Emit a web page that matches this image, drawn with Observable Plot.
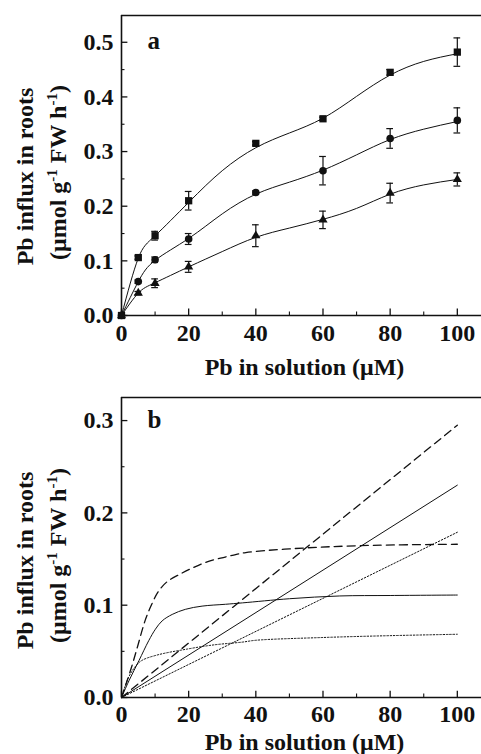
<!DOCTYPE html>
<html>
<head>
<meta charset="utf-8">
<script src="https://cdn.jsdelivr.net/npm/d3@7"></script>
<script src="https://cdn.jsdelivr.net/npm/@observablehq/plot@0.6"></script>
<style>
  html, body { margin: 0; padding: 0; background: #fff; }
  #chart svg { display: block; }
</style>
</head>
<body>
<div id="chart"></div>
<script>
// ---- Panel a: measured Pb influx (mean ± error) ----
const concA = [0, 5, 10, 20, 40, 60, 80, 100];
const squareMean = [0, 0.106, 0.146, 0.210, 0.315, 0.360, 0.445, 0.482];
const squareErr  = [0, 0.003, 0.008, 0.017, 0.003, 0.003, 0.005, 0.026];
const circleMean = [0, 0.062, 0.102, 0.140, 0.225, 0.265, 0.324, 0.357];
const circleErr  = [0, 0.003, 0.005, 0.010, 0.003, 0.026, 0.018, 0.023];
const triangleMean = [0, 0.041, 0.059, 0.089, 0.146, 0.175, 0.224, 0.249];
const triangleErr  = [0, 0.003, 0.008, 0.010, 0.020, 0.016, 0.018, 0.012];

// fitted curves for panel a
const fitX = [0, 5, 10, 20, 30, 40, 50, 60, 70, 80, 90, 100];
const squareFit   = [0, 0.105, 0.146, 0.207, 0.265, 0.307, 0.334, 0.361, 0.401, 0.440, 0.465, 0.479];
const circleFit   = [0, 0.062, 0.101, 0.141, 0.186, 0.222, 0.244, 0.266, 0.294, 0.322, 0.341, 0.355];
const triangleFit = [0, 0.041, 0.060, 0.089, 0.117, 0.143, 0.160, 0.176, 0.196, 0.222, 0.239, 0.249];

// ---- Panel b: saturable and linear components ----
const satDashedX = [0, 3, 5, 7, 9, 11, 13.6, 17.6, 21.5, 25.5, 29.5, 33, 37, 50, 71, 100];
const satDashedY = [0, 0.033, 0.058, 0.083, 0.101, 0.115, 0.1255, 0.134, 0.141, 0.147, 0.151, 0.154, 0.157, 0.161, 0.1645, 0.166];
const satSolidX = [0, 2.2, 5.2, 8.1, 10.1, 12.1, 15.1, 19, 24, 31, 36, 50, 65, 80, 100];
const satSolidY = [0, 0.018, 0.040, 0.0615, 0.074, 0.083, 0.090, 0.0955, 0.099, 0.101, 0.1025, 0.107, 0.110, 0.1105, 0.111];
const satDottedX = [0, 2, 4, 6, 10.6, 19.6, 27.5, 36, 40, 60, 80, 100];
const satDottedY = [0, 0.021, 0.033, 0.040, 0.046, 0.0525, 0.057, 0.060, 0.062, 0.065, 0.067, 0.0685];
const linX = [0, 100];
const linDashedY = [0, 0.295];
const linSolidY  = [0, 0.230];
const linDottedY = [0, 0.179];

// ---- Axis ticks and labels ----
const xMajor = [0, 20, 40, 60, 80, 100];
const xMinor = [10, 30, 50, 70, 90];
const yMajorA = [0, 0.1, 0.2, 0.3, 0.4, 0.5];
const yMinorA = [0.05, 0.15, 0.25, 0.35, 0.45];
const yMajorB = [0, 0.1, 0.2, 0.3];
const yMinorB = [0.05, 0.15, 0.25];
const xLabel = "Pb in solution (\u03BCM)";
const yLabel1 = "Pb influx in roots";
const yLabel2 = "(\u03BCmol g-1 FW h-1)";

const serif = "'Liberation Serif', 'Times New Roman', Times, serif";
const ink = "#111";

const seriesA = [
  {name: "square", mean: squareMean, err: squareErr, fit: squareFit, symbol: "square", r: 4.1},
  {name: "circle", mean: circleMean, err: circleErr, fit: circleFit, symbol: "circle", r: 3.8},
  {name: "triangle", mean: triangleMean, err: triangleErr, fit: triangleFit, symbol: "triangle", r: 3.4}
];
const rowsA = seriesA.flatMap(s => concA.map((x, i) => ({series: s.name, x, y: s.mean[i], err: s.err[i]})));
const fitRowsA = seriesA.flatMap(s => fitX.map((x, i) => ({series: s.name, x, y: s.fit[i]})));
const errRowsA = rowsA.filter(d => d.err > 0);

function zip(xs, ys, name) { return xs.map((x, i) => ({series: name, x, y: ys[i]})); }

// frame lines and inward tick marks (short rules in data units)
function frameMarks(yMax, yMajor, yMinor, xLen, yLen) {
  return [
    Plot.ruleY([0], {stroke: ink, strokeWidth: 1.6}),
    Plot.ruleY([yMax], {stroke: ink, strokeWidth: 1.6}),
    Plot.ruleX([0], {stroke: ink, strokeWidth: 1.6}),
    Plot.ruleX(xMajor, {y1: 0, y2: yLen, stroke: ink, strokeWidth: 1.3}),
    Plot.ruleX(xMinor, {y1: 0, y2: yLen * 0.55, stroke: ink, strokeWidth: 1.1}),
    Plot.ruleY(yMajor, {x1: 0, x2: xLen, stroke: ink, strokeWidth: 1.3}),
    Plot.ruleY(yMinor, {x1: 0, x2: xLen * 0.55, stroke: ink, strokeWidth: 1.1})
  ];
}

function labelMarks(xDy, y1Dy, y2Dy) {
  const common = {text: d => d, textAnchor: "middle", lineAnchor: "middle", fontSize: 24, fontWeight: "bold", fill: ink};
  return [
    Plot.text([xLabel], {...common, frameAnchor: "bottom", dx: 3, dy: xDy}),
    Plot.text([yLabel1], {...common, frameAnchor: "left", rotate: -90, dx: -96, dy: y1Dy}),
    Plot.text([yLabel2], {...common, frameAnchor: "left", rotate: -90, dx: -63, dy: y2Dy})
  ];
}

// turn "-1" in the unit label into superscripts
function superscripts(svg) {
  d3.select(svg).selectAll("text").filter(function () { return this.textContent === yLabel2; })
    .each(function () {
      const t = d3.select(this);
      t.text(null);
      let raised = false;
      for (const p of yLabel2.split(/(-1)/)) {
        if (!p) continue;
        if (p === "-1") {
          t.append("tspan").attr("font-size", 15).attr("dy", -9).text(p);
          raised = true;
        } else {
          t.append("tspan").attr("dy", raised ? 9 : 0).text(p);
          raised = false;
        }
      }
    });
}

const commonStyle = {fontFamily: serif, fontWeight: "bold", fontSize: "24px", color: ink, background: "#fff", overflow: "visible"};
const xDomain = [0, 107.2];

const plotA = Plot.plot({
  width: 481, height: 380,
  marginLeft: 121, marginRight: 0, marginTop: 15, marginBottom: 65,
  style: commonStyle,
  x: {domain: xDomain, ticks: xMajor, tickSize: 0, tickPadding: 8, tickFormat: d3.format("d"), label: null},
  y: {domain: [0, 0.549], ticks: yMajorA, tickSize: 0, tickPadding: 8, tickFormat: d3.format(".1f"), label: null},
  marks: [
    ...frameMarks(0.549, yMajorA, yMinorA, 1.9, 0.012),
    Plot.line(fitRowsA, {x: "x", y: "y", z: "series", curve: "natural", stroke: ink, strokeWidth: 1}),
    Plot.ruleX(errRowsA, {x: "x", y1: d => d.y - d.err, y2: d => d.y + d.err, stroke: ink, strokeWidth: 1.2}),
    Plot.ruleY(errRowsA, {y: d => d.y + d.err, x1: d => d.x - 1, x2: d => d.x + 1, stroke: ink, strokeWidth: 1.2}),
    Plot.ruleY(errRowsA, {y: d => d.y - d.err, x1: d => d.x - 1, x2: d => d.x + 1, stroke: ink, strokeWidth: 1.2}),
    ...seriesA.map(s => Plot.dot(rowsA.filter(d => d.series === s.name), {x: "x", y: "y", symbol: s.symbol, r: s.r, fill: ink, stroke: "none"})),
    Plot.text(["a"], {text: d => d, frameAnchor: "top-left", textAnchor: "start", lineAnchor: "top", dx: 26, dy: 16, fontSize: 25, fontWeight: "bold", fill: ink}),
    ...labelMarks(52, 11, 7)
  ]
});

const plotB = Plot.plot({
  width: 481, height: 374,
  marginLeft: 121, marginRight: 0, marginTop: 17, marginBottom: 57,
  style: commonStyle,
  x: {domain: xDomain, ticks: xMajor, tickSize: 0, tickPadding: 7, tickFormat: d3.format("d"), label: null},
  y: {domain: [0, 0.325], ticks: yMajorB, tickSize: 0, tickPadding: 8, tickFormat: d3.format(".1f"), label: null},
  marks: [
    ...frameMarks(0.325, yMajorB, yMinorB, 1.9, 0.0068),
    Plot.line(zip(linX, linDashedY, "linear dashed"), {x: "x", y: "y", stroke: ink, strokeWidth: 1.3, strokeDasharray: "8,5"}),
    Plot.line(zip(linX, linSolidY, "linear solid"), {x: "x", y: "y", stroke: ink, strokeWidth: 1}),
    Plot.line(zip(linX, linDottedY, "linear dotted"), {x: "x", y: "y", stroke: ink, strokeWidth: 1, strokeDasharray: "1.5,1.8"}),
    Plot.line(zip(satDashedX, satDashedY, "saturable dashed"), {x: "x", y: "y", curve: "catmull-rom", stroke: ink, strokeWidth: 1.3, strokeDasharray: "8,5"}),
    Plot.line(zip(satSolidX, satSolidY, "saturable solid"), {x: "x", y: "y", curve: "catmull-rom", stroke: ink, strokeWidth: 1}),
    Plot.line(zip(satDottedX, satDottedY, "saturable dotted"), {x: "x", y: "y", curve: "catmull-rom", stroke: ink, strokeWidth: 1, strokeDasharray: "1.5,1.8"}),
    Plot.text(["b"], {text: d => d, frameAnchor: "top-left", textAnchor: "start", lineAnchor: "top", dx: 26, dy: 13, fontSize: 25, fontWeight: "bold", fill: ink}),
    ...labelMarks(45, 13, 8)
  ]
});

superscripts(plotA);
superscripts(plotB);
document.getElementById("chart").append(plotA, plotB);
</script>
</body>
</html>
